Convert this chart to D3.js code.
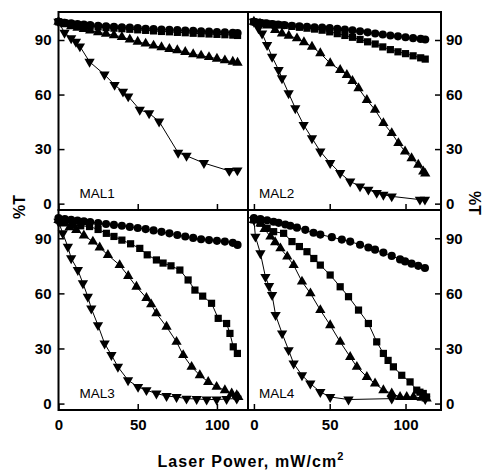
<!DOCTYPE html>
<html>
<head>
<meta charset="utf-8">
<script src="https://cdn.jsdelivr.net/npm/d3@7"></script>
<style>
  body { margin: 0; background: #fff; }
  svg { display: block; }
  text { font-family: "Liberation Sans", Arial, sans-serif; }
</style>
</head>
<body>
<div id="chart"></div>
<script>
// shared x grid for the densely sampled series
const xs = [0, 4, 8, 12, 16, 20, 25, 30, 35, 40, 45, 50, 55, 60, 65, 70, 75, 80, 85, 90, 95, 100, 105, 110, 113];

const xTicks = [0, 50, 100];
const yTicks = [0, 30, 60, 90];

// MAL1
const mal1Circle = [100, 99.5, 99.2, 98.8, 98.5, 98.2, 97.8, 97.5, 97.2, 97, 96.8, 96.5, 96.2, 96, 95.8, 95.6, 95.4, 95.2, 95, 94.8, 94.6, 94.4, 94.2, 94, 93.8];
const mal1Square = [100, 99.3, 98.8, 98.3, 98, 97.6, 97.2, 96.8, 96.5, 96.2, 95.9, 95.6, 95.3, 95, 94.7, 94.5, 94.2, 94, 93.7, 93.5, 93.3, 93.1, 92.9, 92.7, 92.5];
const mal1Up = [100, 98.6, 97.6, 96.7, 96, 95.2, 94.3, 93.4, 92.6, 91.7, 90.3, 89, 88, 86.9, 86, 85.1, 84.4, 83.4, 82.2, 81.4, 80.6, 79.7, 78.8, 78, 77.5];
const mal1Down = [[0, 100], [3.8, 94], [8, 91], [11, 89], [13.5, 86.5], [19.6, 78], [29, 71], [35.4, 65.3], [40.7, 61.6], [44, 59],
  [51.3, 51.6], [57.2, 49.7], [63.5, 45.2], [75.5, 28], [80.8, 26.3], [91.8, 22.3], [107.8, 18], [112.9, 18.3]];

// MAL2
const mal2Circle = [100, 99.5, 99.2, 98.8, 98.5, 98.2, 97.8, 97.5, 97.2, 97, 96.8, 96.5, 96.2, 95.8, 95.3, 94.8, 94.2, 93.6, 93, 92.5, 92, 91.5, 91, 90.6, 90.3];
const mal2Square = [100, 99.5, 99.1, 98.7, 98.3, 98, 97.5, 97, 96.5, 96, 95.4, 94.5, 93.5, 92.5, 91.5, 90.3, 89, 87.8, 86.2, 84.7, 83.5, 82.5, 81.3, 80.2, 79.5];
const mal2Up = [[0, 100], [4, 99], [8.7, 98], [14, 95.5], [18.5, 93.6], [23, 92.3], [28.4, 90.9], [33, 88.8], [38.3, 86.3], [43.8, 82.7],
  [50.3, 77.2], [56.9, 73.5], [61.3, 70.8], [65, 67.5], [69, 63.5], [74.5, 57], [79.9, 51.6], [85.4, 44.3], [90.9, 38.8], [95.3, 33.3],
  [99.7, 28.7], [104, 25], [108.4, 21.4], [111.7, 17.7], [113, 16.5]];
const mal2Down = [[0, 100], [3, 96.5], [5.4, 93.6], [8.7, 87.2], [12, 80.8], [16.3, 73.5], [18.5, 69], [22.9, 60.7], [27.3, 52.5], [32.8, 43.3],
  [38.3, 36], [43.8, 28.7], [50.3, 22.3], [56.9, 16.8], [63.5, 12.2], [70, 9.5], [75.5, 7.7], [81, 5.9], [85.4, 4.9], [90.9, 4],
  [109.5, 2.2], [112.8, 2.2]];

// MAL3
const mal3Circle = [101, 100.5, 100, 99.6, 99.2, 98.8, 98.3, 97.8, 97.3, 96.8, 96.2, 95.6, 95, 94.3, 93.5, 92.7, 91.8, 91, 90.2, 89.5, 89, 88.6, 88.2, 87.5, 86.4];
const mal3Square = [[0, 100], [4, 99.2], [9, 97.3], [14, 96.8], [19.6, 96.4], [25, 94.8], [30.2, 92.7], [35, 91], [40, 89], [45.5, 87],
  [51.3, 84.5], [56, 81], [61.8, 78.2], [66, 76.5], [71, 75], [76.6, 72.7], [81.8, 67.3], [86.1, 61.8], [91, 58.5], [96.6, 54.6],
  [100.8, 46.4], [106.1, 43.6], [108.2, 38.2], [110.3, 30.9], [112.9, 27.3]];
const mal3Up = [[0, 100], [3, 98], [7, 96], [11.2, 94.5], [16, 91.5], [21.7, 88.2], [26, 85], [31.2, 80.9], [38.6, 75.4], [44, 69.5],
  [49.2, 63.6], [55.5, 57.5], [58.5, 54], [61.8, 49.1], [68.2, 41.8], [74.5, 33.6], [78.7, 26.4], [84, 20], [89.2, 15.4], [94.5, 11.8],
  [99.8, 9.1], [105, 7.3], [109.3, 5.5], [112.5, 4.5], [113.5, 3.5]];
const mal3Down = [[0, 99], [2.7, 92.7], [5.9, 85.4], [8, 79.1], [12.2, 72.7], [15.4, 65.5], [18.5, 58.2], [20.7, 51.8], [24.9, 42.7], [29.1, 32.7],
  [33.4, 26.4], [37.5, 20], [43.9, 12.7], [50.2, 9.1], [55.5, 7.3], [61.8, 5.5], [68.2, 4.1], [74.5, 3.6], [80.8, 2.7], [87.2, 2.5],
  [93.5, 2.2], [99.8, 2.2], [106.1, 2.5], [112.5, 2.7]];

// MAL4
const mal4Circle = [[0, 101], [4.3, 100.5], [8.7, 99.8], [13, 99], [16.3, 98.4], [20.7, 97.5], [24, 96.8], [28.4, 95.8], [33.9, 94.6], [39.3, 93],
  [43.8, 92], [51.4, 90.6], [58, 89.3], [63.5, 88.2], [70, 86.5], [75.5, 85], [79.9, 83.8], [85.4, 82.2], [90.9, 80.4], [96.4, 78.5],
  [99.7, 77.4], [104, 76.2], [108.4, 75], [112.8, 73.8]];
const mal4Square = [[0, 100], [4.3, 98.2], [8.7, 95.5], [13, 93.6], [19.6, 92.7], [25.1, 88.2], [30, 85.5], [35, 82.7], [39.5, 79], [43.8, 75.4],
  [50.3, 70], [56.9, 63.6], [62.4, 58.2], [69, 50.9], [75.5, 43.6], [81, 33.6], [85.4, 27.3], [88.5, 23.5], [92, 20], [97.5, 15.4],
  [103, 11.8], [107.4, 7.3], [109.5, 6.2], [111.7, 5.5], [113.9, 3.6]];
const mal4Up = [[0, 100], [4.3, 98], [7, 95], [10.9, 90.9], [14, 87.8], [17.5, 84.5], [22, 80], [26.2, 75.4], [31.7, 66.4], [37.3, 60],
  [43.8, 50.9], [50.3, 42.7], [56.9, 33.6], [63.5, 25.4], [67.9, 20], [74.5, 14.5], [79.9, 10.9], [85.4, 7.3], [90.9, 5.5], [96.4, 3.6],
  [100.8, 3.6], [105.2, 3.6], [110.7, 3.1], [113.9, 2.7]];
const mal4Down = [[0, 100], [1, 90.9], [4.3, 81.8], [7.6, 69], [10, 64], [12, 59.1], [14.3, 48.2], [18.6, 38.2], [22.9, 29.1], [26.2, 21.8],
  [31.7, 15.4], [37.2, 10.9], [43.8, 6.3], [50.3, 3.6], [62.4, 2.2], [90.9, 2.7], [113, 2.5]];

const onGrid = vals => xs.map((x, i) => [x, vals[i]]);

// panel layout: [left, right, top, bottom]
const panels = [
  { name: 'MAL1', box: [58.5, 248, 12, 210], side: 'left', xDom: [0, 119.6], xLabels: false,
    series: { circle: onGrid(mal1Circle), square: onGrid(mal1Square), up: onGrid(mal1Up), down: mal1Down } },
  { name: 'MAL2', box: [248, 441, 12, 210], side: 'right', xDom: [-3.9, 123.4], xLabels: false,
    series: { circle: onGrid(mal2Circle), square: onGrid(mal2Square), up: mal2Up, down: mal2Down } },
  { name: 'MAL3', box: [58.5, 248, 210, 410], side: 'left', xDom: [0, 119.6], xLabels: true,
    series: { circle: onGrid(mal3Circle), square: mal3Square, up: mal3Up, down: mal3Down } },
  { name: 'MAL4', box: [248, 441, 210, 410], side: 'right', xDom: [-3.9, 123.4], xLabels: true,
    series: { circle: mal4Circle, square: mal4Square, up: mal4Up, down: mal4Down } }
];

const yDom = [-3.5, 105.4];

const svg = d3.select('#chart').append('svg')
  .attr('width', 482).attr('height', 470);

const sym = {
  circle: d3.symbol(d3.symbolCircle, 52),
  square: d3.symbol(d3.symbolSquare, 52),
  up: d3.symbol(d3.symbolTriangle, 46),
  down: d3.symbol(d3.symbolTriangle, 46)
};

panels.forEach(p => {
  const [l, r, t, b] = p.box;
  const x = d3.scaleLinear().domain(p.xDom).range([l, r]);
  const y = d3.scaleLinear().domain(yDom).range([b, t]);
  const g = svg.append('g');

  const line = d3.line().x(d => x(d[0])).y(d => y(d[1]));

  ['circle', 'square', 'up', 'down'].forEach(k => {
    const data = p.series[k];
    g.append('path').datum(data)
      .attr('d', line)
      .attr('fill', 'none')
      .attr('stroke', '#000')
      .attr('stroke-width', 1);
    g.selectAll('.m-' + k).data(data).enter().append('path')
      .attr('class', 'm-' + k)
      .attr('d', sym[k])
      .attr('transform', d => `translate(${x(d[0])},${y(d[1])})` + (k === 'down' ? ' rotate(180)' : ''))
      .attr('fill', '#000');
  });

  // x axis at bottom, inward ticks
  const xAxis = d3.axisBottom(x).tickValues(xTicks).tickSizeInner(-6).tickSizeOuter(0).tickPadding(9)
    .tickFormat(p.xLabels ? d3.format('d') : '');
  const gx = g.append('g').attr('transform', `translate(0,${b})`).call(xAxis);
  gx.select('.domain').remove();

  // y axis on outer side
  const yAxis = (p.side === 'left' ? d3.axisLeft(y) : d3.axisRight(y))
    .tickValues(yTicks).tickSizeInner(-6).tickSizeOuter(0).tickPadding(p.side === 'left' ? 7 : 5);
  const gy = g.append('g').attr('transform', `translate(${p.side === 'left' ? l : r},0)`).call(yAxis);
  gy.select('.domain').remove();

  [gx, gy].forEach(a => {
    a.selectAll('line').attr('stroke', '#000').attr('stroke-width', 1.5);
    a.selectAll('text').attr('font-size', 15).attr('font-weight', 'bold').attr('fill', '#000')
      .style('font-family', '"Liberation Sans", Arial, sans-serif');
  });

  g.append('rect')
    .attr('x', l).attr('y', t).attr('width', r - l).attr('height', b - t)
    .attr('fill', 'none').attr('stroke', '#000').attr('stroke-width', 2);

  g.append('text')
    .attr('x', l + (p.side === 'left' ? 21 : 11)).attr('y', b - 12)
    .attr('font-size', 13.5).attr('fill', '#000')
    .text(p.name);
});

// axis titles
svg.append('text')
  .attr('transform', 'translate(25,207) rotate(-90)')
  .attr('text-anchor', 'middle')
  .attr('font-size', 16).attr('font-weight', 'bold')
  .text('%T');

svg.append('text')
  .attr('transform', 'translate(469,203) rotate(90)')
  .attr('text-anchor', 'middle')
  .attr('font-size', 16).attr('font-weight', 'bold')
  .text('%T');

const title = svg.append('text')
  .attr('x', 251).attr('y', 467)
  .attr('text-anchor', 'middle')
  .attr('font-size', 16).attr('font-weight', 'bold')
  .attr('letter-spacing', 1.1);
title.append('tspan').text('Laser Power, mW/cm');
title.append('tspan').attr('dy', -7).attr('font-size', 11).text('2');
</script>
</body>
</html>
